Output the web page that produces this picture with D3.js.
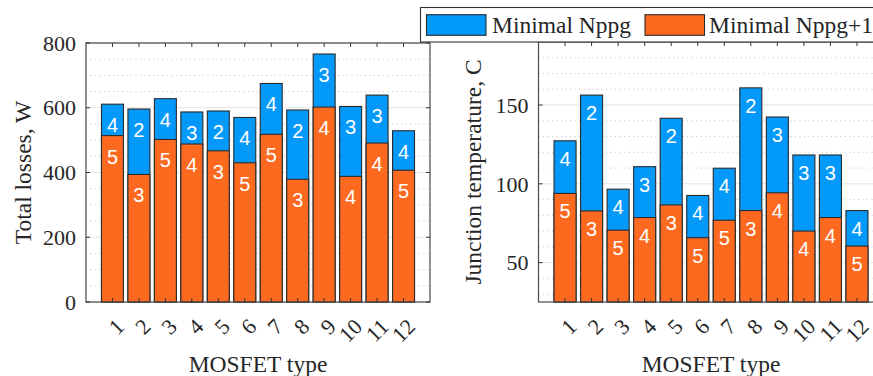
<!doctype html>
<html lang="en">
<head>
    <meta charset="utf-8">
    <title>MOSFET losses and junction temperature</title>
    <style>
        body { margin: 0; background: #fff; }
    </style>
</head>
<body>
    <div id="chart"></div>

    <script src="https://cdnjs.cloudflare.com/ajax/libs/d3/7.8.5/d3.min.js"></script>
    <script>
        const types = ["1", "2", "3", "4", "5", "6", "7", "8", "9", "10", "11", "12"];
        const seriesNames = ["Minimal Nppg", "Minimal Nppg+1"];

        // total losses, W
        const lossNppg = [611, 596, 628, 587, 590, 570, 675, 593, 766, 604, 639, 529];
        const lossNppg1 = [514, 394, 502, 488, 467, 430, 518, 379, 602, 388, 491, 407];
        // junction temperature, C
        const tempNppg = [127.3, 156.3, 96.6, 110.9, 141.6, 92.6, 109.9, 160.9, 142.4, 118.3, 118.3, 83];
        const tempNppg1 = [93.9, 82.8, 70.6, 78.6, 86.6, 65.8, 76.9, 83, 94.3, 70, 78.6, 60.5];
        // number of parallel devices written on each bar
        const countNppg = [4, 2, 4, 3, 2, 4, 4, 2, 3, 3, 3, 4];
        const countNppg1 = [5, 3, 5, 4, 3, 5, 5, 3, 4, 4, 4, 5];

        const lossTicks = [0, 200, 400, 600, 800];
        const tempTicks = [50, 100, 150];

        const width = 873;
        const height = 376;
        const blue = "#0399fb";
        const orange = "#fd6a1f";
        const serif = "Liberation Serif, Times New Roman, DejaVu Serif, serif";

        const svg = d3.select("#chart").append("svg")
            .attr("width", width).attr("height", height)
            .attr("font-family", serif)
            .attr("fill", "#262626");

        drawPanel({
            left: 86, right: 430, top: 43, bottom: 302,
            domain: [0, 800], ticks: lossTicks, minorStep: 50,
            upper: lossNppg, lower: lossNppg1,
            title: "Total losses, W", titleX: 31, labelOffset: 28
        });

        drawPanel({
            left: 538.5, right: 883.5, top: 42, bottom: 302,
            domain: [25, 190], ticks: tempTicks, minorStep: 10,
            upper: tempNppg, lower: tempNppg1,
            title: "Junction temperature, C", titleX: 481, labelOffset: 25
        });

        drawLegend();

        function drawPanel(p) {
            const g = svg.append("g");
            const x = d3.scaleLinear().domain([0, 13]).range([p.left, p.right]);
            const y = d3.scaleLinear().domain(p.domain).range([p.bottom, p.top]);
            const bw = x(0.83) - x(0);

            // minor dotted grid
            const minor = d3.range(Math.ceil(p.domain[0] / p.minorStep) * p.minorStep, p.domain[1], p.minorStep)
                .filter(v => !p.ticks.includes(v) && v > p.domain[0]);
            g.selectAll("line.minor").data(minor).join("line")
                .attr("class", "minor")
                .attr("x1", p.left).attr("x2", p.right)
                .attr("y1", d => y(d)).attr("y2", d => y(d))
                .attr("stroke", "#c4c4c4").attr("stroke-width", 1)
                .attr("stroke-dasharray", "1,3.5");

            // major grid
            g.selectAll("line.major").data(p.ticks).join("line")
                .attr("class", "major")
                .attr("x1", p.left).attr("x2", p.right)
                .attr("y1", d => y(d)).attr("y2", d => y(d))
                .attr("stroke", "#e3e3e3").attr("stroke-width", 1);

            const idx = d3.range(types.length);

            g.selectAll("rect.upper").data(idx).join("rect")
                .attr("class", "upper")
                .attr("x", i => x(i + 1) - bw / 2)
                .attr("width", bw)
                .attr("y", i => y(p.upper[i]))
                .attr("height", i => y(p.domain[0]) - y(p.upper[i]))
                .attr("fill", blue).attr("stroke", "#2b2b2b").attr("stroke-width", 1.1);

            g.selectAll("rect.lower").data(idx).join("rect")
                .attr("class", "lower")
                .attr("x", i => x(i + 1) - bw / 2)
                .attr("width", bw)
                .attr("y", i => y(p.lower[i]))
                .attr("height", i => y(p.domain[0]) - y(p.lower[i]))
                .attr("fill", orange).attr("stroke", "#2b2b2b").attr("stroke-width", 1.1);

            const numStyle = sel => sel
                .attr("text-anchor", "middle")
                .attr("font-family", "Liberation Sans, Arial, sans-serif")
                .attr("font-size", 20)
                .attr("fill", "#fff");

            g.selectAll("text.nu").data(idx).join("text")
                .attr("class", "nu")
                .attr("x", i => x(i + 1))
                .attr("y", i => y(p.upper[i]) + p.labelOffset)
                .text(i => countNppg[i])
                .call(numStyle);

            g.selectAll("text.nl").data(idx).join("text")
                .attr("class", "nl")
                .attr("x", i => x(i + 1))
                .attr("y", i => y(p.lower[i]) + p.labelOffset)
                .text(i => countNppg1[i])
                .call(numStyle);

            // box
            g.append("rect")
                .attr("x", p.left).attr("y", p.top)
                .attr("width", p.right - p.left).attr("height", p.bottom - p.top)
                .attr("fill", "none").attr("stroke", "#4a4a4a").attr("stroke-width", 1.2);

            // inward ticks
            const tl = 4;
            g.selectAll("line.xt").data(idx).join("line")
                .attr("class", "xt")
                .attr("x1", i => x(i + 1)).attr("x2", i => x(i + 1))
                .attr("y1", p.bottom).attr("y2", p.bottom - tl)
                .attr("stroke", "#333");
            g.selectAll("line.xtt").data(idx).join("line")
                .attr("class", "xtt")
                .attr("x1", i => x(i + 1)).attr("x2", i => x(i + 1))
                .attr("y1", p.top).attr("y2", p.top + tl)
                .attr("stroke", "#333");
            g.selectAll("line.yt").data(p.ticks).join("line")
                .attr("class", "yt")
                .attr("x1", p.left).attr("x2", p.left + tl)
                .attr("y1", d => y(d)).attr("y2", d => y(d))
                .attr("stroke", "#333");
            g.selectAll("line.ytr").data(p.ticks).join("line")
                .attr("class", "ytr")
                .attr("x1", p.right).attr("x2", p.right - tl)
                .attr("y1", d => y(d)).attr("y2", d => y(d))
                .attr("stroke", "#333");

            // tick labels
            g.selectAll("text.yl").data(p.ticks).join("text")
                .attr("class", "yl")
                .attr("x", p.left - 10)
                .attr("y", d => y(d))
                .attr("dy", "0.35em")
                .attr("text-anchor", "end")
                .attr("font-size", 22)
                .text(d => d);

            g.selectAll("text.xl").data(idx).join("text")
                .attr("class", "xl")
                .attr("transform", i => `translate(${x(i + 1) + 13},${p.bottom + 26}) rotate(-45)`)
                .attr("text-anchor", "end")
                .attr("font-size", 22)
                .text(i => types[i]);

            // axis titles
            g.append("text")
                .attr("transform", `translate(${p.titleX},${(p.top + p.bottom) / 2}) rotate(-90)`)
                .attr("text-anchor", "middle")
                .attr("font-size", 23.5)
                .text(p.title);

            g.append("text")
                .attr("x", (p.left + p.right) / 2)
                .attr("y", 372)
                .attr("text-anchor", "middle")
                .attr("font-size", 23.5)
                .text("MOSFET type");
        }

        function drawLegend() {
            const lg = svg.append("g");
            lg.append("rect")
                .attr("x", 420.5).attr("y", 7.5)
                .attr("width", 500).attr("height", 34.5)
                .attr("fill", "#fff").attr("stroke", "#333").attr("stroke-width", 1.1);

            const items = [
                { name: seriesNames[0], color: blue, sx: 426.5, tx: 492 },
                { name: seriesNames[1], color: orange, sx: 645, tx: 709 }
            ];
            items.forEach(it => {
                lg.append("rect")
                    .attr("x", it.sx).attr("y", 14.7)
                    .attr("width", 59.5).attr("height", 20.6)
                    .attr("fill", it.color).attr("stroke", "#2b2b2b").attr("stroke-width", 1.1);
                lg.append("text")
                    .attr("x", it.tx).attr("y", 33.3)
                    .attr("font-size", 23.5)
                    .text(it.name);
            });
        }
    </script>
</body>
</html>
